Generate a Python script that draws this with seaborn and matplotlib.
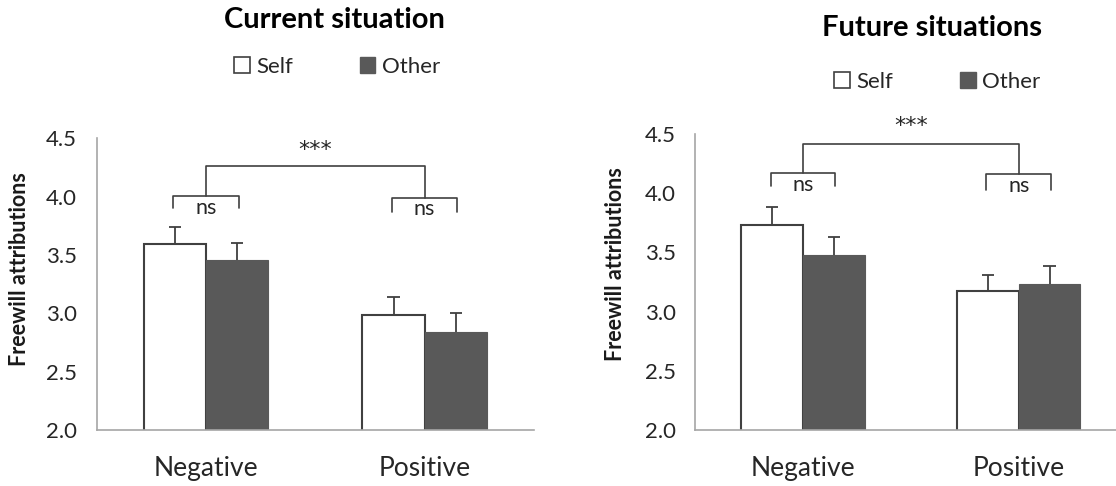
import matplotlib
matplotlib.use("Agg")
import matplotlib.pyplot as plt
import numpy as np
import pandas as pd
import seaborn as sns
from matplotlib.patches import Patch

# Data
CONDITIONS = ["Negative", "Positive"]
TARGETS = ["Self", "Other"]
CURRENT_SELF = [3.59, 2.99]
CURRENT_OTHER = [3.46, 2.84]
CURRENT_SELF_ERR = [0.15, 0.15]
CURRENT_OTHER_ERR = [0.14, 0.16]
FUTURE_SELF = [3.73, 3.17]
FUTURE_OTHER = [3.48, 3.23]
FUTURE_SELF_ERR = [0.15, 0.14]
FUTURE_OTHER_ERR = [0.15, 0.155]
Y_TICKS = [2.0, 2.5, 3.0, 3.5, 4.0, 4.5]

SELF_COLOR = "white"
OTHER_COLOR = "#595959"
EDGE_COLOR = "#404040"
SPINE_COLOR = "#a6a6a6"
TEXT_COLOR = "#262626"
FONT = ["Lato", "DejaVu Sans"]


def make_df(self_vals, other_vals):
    rows = []
    for i, cond in enumerate(CONDITIONS):
        rows.append({"condition": cond, "target": "Self", "value": self_vals[i]})
        rows.append({"condition": cond, "target": "Other", "value": other_vals[i]})
    return pd.DataFrame(rows)


def bracket(ax, x0, x1, top, leg0, leg1):
    ax.plot([x0, x0, x1, x1], [leg0, top, top, leg1], color=EDGE_COLOR,
            lw=1.2, clip_on=False, solid_joinstyle="round")


def plot_panel(ax, self_vals, other_vals, self_err, other_err, xlim, ann):
    df = make_df(self_vals, other_vals)
    sns.barplot(data=df, x="condition", y="value", hue="target",
                order=CONDITIONS, hue_order=TARGETS,
                palette={"Self": SELF_COLOR, "Other": OTHER_COLOR},
                width=0.57, gap=0, errorbar=None, legend=False, ax=ax)

    # Style bars and add upper error bars (stem + cap)
    for container, target, errs in zip(ax.containers, TARGETS, [self_err, other_err]):
        for bar, err in zip(container, errs):
            if target == "Self":
                bar.set_edgecolor(EDGE_COLOR)
                bar.set_linewidth(1.5)
            else:
                bar.set_edgecolor(OTHER_COLOR)
                bar.set_linewidth(0.8)
            cx = bar.get_x() + bar.get_width() / 2
            top = bar.get_height()
            cap = bar.get_width() * 0.1
            ax.vlines(cx, top, top + err, color=EDGE_COLOR, lw=1.3, zorder=3)
            ax.hlines(top + err, cx - cap, cx + cap, color=EDGE_COLOR, lw=1.3,
                      zorder=3)

    ax.set_ylim(2.0, 4.5)
    ax.set_xlim(*xlim)
    ax.set_yticks(Y_TICKS)
    ax.set_yticklabels([f"{t:.1f}" for t in Y_TICKS])
    ax.tick_params(axis="y", length=0, pad=14, labelsize=16, colors=TEXT_COLOR)
    ax.tick_params(axis="x", length=0, pad=19, labelsize=19, colors=TEXT_COLOR)
    ax.set_xlabel("")
    for side in ["top", "right"]:
        ax.spines[side].set_visible(False)
    for side in ["left", "bottom"]:
        ax.spines[side].set_color(SPINE_COLOR)
        ax.spines[side].set_linewidth(1.2)

    # Significance brackets
    ns0, ns1, big, star_y = ann
    for i, (top, leg) in enumerate([ns0, ns1]):
        bracket(ax, i - 0.15, i + 0.15, top, leg, leg)
        ax.text(i, top - 0.1, "ns", ha="center", va="center", fontsize=15.5,
                color=TEXT_COLOR, family=FONT)
    bracket(ax, 0, 1, big, ns0[0], ns1[0])
    ax.text(0.5, star_y, "***", ha="center", va="center", fontsize=16,
            color=TEXT_COLOR, family="DejaVu Sans", clip_on=False)


sns.set_theme(style="white")
plt.rcParams["font.family"] = FONT

fig = plt.figure(figsize=(11.16, 4.86), dpi=100)
ax1 = fig.add_axes([0.0866, 0.1152, 0.3919, 0.6002])
ax2 = fig.add_axes([0.6228, 0.1152, 0.3772, 0.609])

plot_panel(ax1, CURRENT_SELF, CURRENT_OTHER, CURRENT_SELF_ERR, CURRENT_OTHER_ERR,
           (-0.5, 1.5), ((4.005, 3.90), (3.99, 3.87), 4.26, 4.40))
plot_panel(ax2, FUTURE_SELF, FUTURE_OTHER, FUTURE_SELF_ERR, FUTURE_OTHER_ERR,
           (-0.5, 1.45), ((4.17, 4.06), (4.16, 4.03), 4.415, 4.57))

for ax, x, y in [(ax1, -0.1755, 0.552), (ax2, -0.19, 0.561)]:
    ax.set_ylabel("Freewill attributions", fontsize=15.5, fontweight="bold",
                  color="#1a1a1a")
    ax.yaxis.set_label_coords(x, y)
    ax.yaxis.label.set_verticalalignment("center")

fig.text(0.300, 0.959, "Current situation", ha="center", va="center",
         fontsize=21, fontweight="bold", color="black")
fig.text(0.835, 0.942, "Future situations", ha="center", va="center",
         fontsize=21, fontweight="bold", color="black")

handles = [Patch(facecolor=SELF_COLOR, edgecolor=EDGE_COLOR, linewidth=1.2),
           Patch(facecolor=OTHER_COLOR, edgecolor=OTHER_COLOR)]
for anchor in [(0.302, 0.863), (0.840, 0.832)]:
    fig.legend(handles, TARGETS, loc="center", bbox_to_anchor=anchor, ncol=2,
               frameon=False, handlelength=0.7, handleheight=0.7,
               handletextpad=0.3, columnspacing=3.0, fontsize=16)

fig.savefig("out.png", dpi=100)
